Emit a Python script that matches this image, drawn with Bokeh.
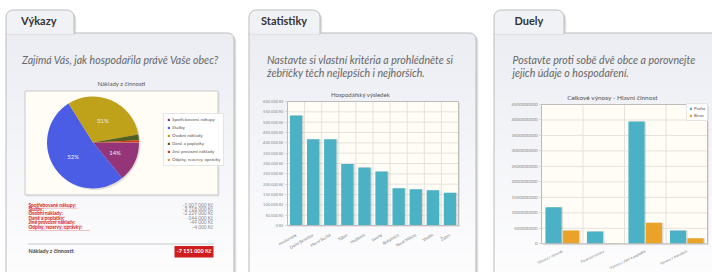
import math
import numpy as np
from bokeh.plotting import figure
from bokeh.models import (Range1d, LinearAxis, FixedTicker, Legend, LegendItem,
                          ColumnDataSource, NumeralTickFormatter)
from bokeh.embed import file_html
from bokeh.resources import INLINE
from bokeh.core.properties import value

# ---------------- data ----------------
tab_titles = ["Výkazy", "Statistiky", "Duely"]
intro_1 = ["Zajímá Vás, jak hospodařila právě Vaše obec?"]
intro_2 = ["Nastavte si vlastní kritéria a prohlédněte si", "žebříčky těch nejlepších i nejhorších."]
intro_3 = ["Postavte proti sobě dvě obce a porovnejte", "jejich údaje o hospodaření."]

pie_title = "Náklady z činnosti"
pie_labels = ["Spotřebované nákupy", "Služby", "Osobní náklady", "Daně a poplatky",
              "Jiné provozní náklady", "Odpisy, rezervy, oprávky"]
pie_values = [1007000, 3718000, 2229000, 144000, 49000, 4000]
pie_colors = ["#953579", "#4b5de4", "#bfa21a", "#4f601e", "#d8361f", "#e8a22c"]
total_label = "Náklady z činnosti:"

bar_title = "Hospodářský výsledek"
bar_towns = ["Hrušovany", "Dolní Benešov", "Horní Suchá", "Tábor", "Hodonín",
             "Louny", "Rokytnice", "Nové Město", "Vsetín", "Žatec"]
bar_values = [532000, 417000, 417000, 297000, 281000, 261000, 180000, 175000, 170000, 159000]
bar_ticks = [0, 50000, 100000, 150000, 200000, 250000, 300000, 350000, 400000, 450000,
             500000, 550000, 600000]

duel_title = "Celkové výnosy - Hlavní činnost"
duel_items = ["Výnosy z činnosti", "Finanční výnosy", "Výnosy z daní a poplatků", "Výnosy z transferů"]
duel_series = ["Praha", "Brno"]
duel_praha = [1.18e9, 0.40e9, 3.95e9, 0.43e9]
duel_brno = [0.43e9, 0.01e9, 0.68e9, 0.18e9]
duel_ticks = [0, 0.5e9, 1.0e9, 1.5e9, 2.0e9, 2.5e9, 3.0e9, 3.5e9, 4.0e9, 4.5e9]
duel_colors = ["#4bb2c5", "#eaa228"]

# ---------------- helpers ----------------
FONT_NAME = "Lato"
FONT = value(FONT_NAME)
X0, X1, YT, YB = 0, 712, 0, 272  # page pixels covered by the frame


def kc(v):
    return f"{int(v):,}".replace(",", " ") + " Kč"


def lin_range(p0, v0, p1, v1, s_start, s_end):
    k = (v1 - v0) / (p1 - p0)
    return Range1d(start=v0 + (s_start - p0) * k, end=v0 + (s_end - p0) * k)


def mix(c0, c1, t):
    return "#%02x%02x%02x" % tuple(int(round(a + (b - a) * t)) for a, b in zip(c0, c1))


p = figure(width=X1 - X0, height=YB - YT, x_range=Range1d(X0, X1), y_range=Range1d(YB, YT),
           x_axis_location=None, y_axis_location=None, toolbar_location=None,
           output_backend="svg", min_border=0, outline_line_color=None,
           background_fill_color="#ffffff", border_fill_color="#ffffff")
p.grid.visible = False

# ---------------- panels ----------------
panels = [(5.5, 233.5, 73.5), (248.5, 475.5, 319.5), (493.5, 740, 563.5)]
tab_text_x = [20.5, 260.5, 514.0]
intro_x = [21.5, 266.5, 512.0]
intros = [intro_1, intro_2, intro_3]
BODY_TOP, TAB_TOP, BOT = 32.5, 9.5, 300
top_c, bot_c = (235, 237, 243), (253, 253, 254)

for (l, r, tr), tx, ix, lines, title in zip(panels, tab_text_x, intro_x, intros, tab_titles):
    for off, a in ((2.5, 0.07), (1.5, 0.10)):
        p.quad(left=l + off, right=r + off, top=BODY_TOP + off, bottom=BOT,
               fill_color="black", fill_alpha=a, line_color=None, border_radius=6)
        p.quad(left=l + off, right=tr + off, top=TAB_TOP + off, bottom=BODY_TOP + 4,
               fill_color="black", fill_alpha=a, line_color=None, border_radius=7)
    p.quad(left=l, right=r, top=BODY_TOP, bottom=BOT, fill_color=mix(top_c, bot_c, 0),
           line_color=None, border_radius=(0, 6, 0, 0))
    ys = np.arange(BODY_TOP + 8, 272, 4.0)
    cols = [mix(top_c, bot_c, (y - BODY_TOP) / (272 - BODY_TOP)) for y in ys]
    p.quad(left=l + 0.5, right=r - 0.5, top=ys, bottom=ys + 4.3, fill_color=cols, line_color=None)
    p.quad(left=l, right=tr, top=TAB_TOP, bottom=BODY_TOP + 1, fill_color="#f1f2f6",
           line_color="#bdbdbd", border_radius=(7, 7, 0, 0))
    p.quad(left=l, right=r, top=BODY_TOP, bottom=BOT, fill_color=None,
           line_color="#bdbdbd", border_radius=(0, 6, 0, 0))
    p.quad(left=l + 0.6, right=tr - 0.6, top=BODY_TOP - 2, bottom=BODY_TOP + 1.5,
           fill_color="#eff0f4", line_color=None)
    p.text(x=[tx], y=[26.7], text=[title], text_font=FONT, text_font_style="bold",
           text_font_size="11px", text_color="#333333")
    p.text(x=[ix] * len(lines), y=[65.0 + 13.3 * i for i in range(len(lines))], text=lines,
           text_font=FONT, text_font_style="italic", text_font_size="10.6px", text_color="#666666")

# ---------------- pie chart (Výkazy) ----------------
PB = (24.5, 217.5, 90.5, 194.5)
p.quad(left=PB[0] + 1.5, right=PB[1] + 1.5, top=PB[2] + 1.5, bottom=PB[3] + 1.5,
       fill_color="black", fill_alpha=0.08, line_color=None)
p.quad(left=PB[0], right=PB[1], top=PB[2], bottom=PB[3], fill_color="#fffdf6", line_color="#c9c9c9")
p.text(x=[(PB[0] + PB[1]) / 2], y=[86.5], text=[pie_title], text_font=FONT, text_font_size="6px",
       text_align="center", text_color="#555555")

PCX, PCY, R = 92.5, 142.0, 46.0
p.extra_x_ranges["pie_x"] = lin_range(PCX, 0, PCX + 1, 1, X0, X1)
p.extra_y_ranges["pie_y"] = lin_range(PCY, 0, PCY - 1, 1, YB, YT)
vals = np.array(pie_values, dtype=float)
frac = vals / vals.sum()
cum_after = np.cumsum(frac)
cum_before = cum_after - frac
pie_src = ColumnDataSource(dict(start=-cum_after * 2 * math.pi, end=-cum_before * 2 * math.pi,
                                color=pie_colors, label=pie_labels))
p.circle(x=1.5, y=-1.5, radius=R, fill_color="black", fill_alpha=0.12, line_color=None,
         x_range_name="pie_x", y_range_name="pie_y")
wr = p.wedge(x=0, y=0, radius=R, start_angle="start", end_angle="end", direction="anticlock",
             fill_color="color", line_color=None, source=pie_src,
             x_range_name="pie_x", y_range_name="pie_y")
mid = -(cum_before + frac / 2) * 2 * math.pi
show = frac >= 0.05
p.text(x=(0.53 * R * np.cos(mid))[show], y=(0.53 * R * np.sin(mid))[show],
       text=[f"{round(f * 100)}%" for f in frac[show]], text_font=FONT, text_font_size="6px",
       text_align="center", text_baseline="middle", text_color="#eeeeee",
       x_range_name="pie_x", y_range_name="pie_y")
pie_legend = Legend(items=[LegendItem(label=lab, renderers=[wr], index=i) for i, lab in enumerate(pie_labels)],
                    location=(163 - X0, YB - 166), label_text_font=FONT_NAME, label_text_font_size="4.5px",
                    label_text_color="#555555", glyph_width=3, glyph_height=3, label_height=5,
                    label_width=10, label_standoff=2, spacing=3, padding=3, margin=0,
                    border_line_color="#cccccc", background_fill_color="#ffffff")
p.add_layout(pie_legend)

# table under the pie
row_y = [207.0 + 4.45 * i for i in range(len(pie_labels))]
tl = [lab + ":" for lab in pie_labels]
p.text(x=[28] * len(tl), y=row_y, text=tl, text_font=FONT, text_font_size="4.8px",
       text_font_style="bold", text_color="#d42020")
p.segment(x0=[28] * len(tl), x1=[28 + 2.45 * len(t) for t in tl], y0=[y + 0.7 for y in row_y],
          y1=[y + 0.7 for y in row_y], line_color="#e06060", line_width=0.4)
p.text(x=[212.5] * len(tl), y=row_y, text=[kc(-v) for v in pie_values], text_font=FONT,
       text_font_size="4.8px", text_align="right", text_color="#888888")
p.segment(x0=[27.5], x1=[213.5], y0=[243.5], y1=[243.5], line_color="#c8c8c8", line_width=1)
p.text(x=[28], y=[253.5], text=[total_label], text_font=FONT, text_font_size="5.5px",
       text_font_style="bold", text_color="#444444")
p.quad(left=174, right=213, top=245.5, bottom=257, fill_color="#cf1d1d", line_color=None)
p.text(x=[193.5], y=[253.4], text=[kc(-sum(pie_values))], text_font=FONT, text_font_size="5.5px",
       text_font_style="bold", text_align="center", text_color="#ffffff")

# ---------------- bar chart (Statistiky) ----------------
n2 = len(bar_values)
B2L, B2R, B2T, B2B = 287.0, 458.0, 101.0, 225.0
p.extra_x_ranges["b2x"] = lin_range(B2L, -0.5, B2R, n2 - 0.5, X0, X1)
p.extra_y_ranges["b2y"] = lin_range(B2B, 0, B2T, bar_ticks[-1], YB, YT)
p.text(x=[360], y=[97.0], text=[bar_title], text_font=FONT, text_font_size="6px",
       text_align="center", text_color="#555555")
p.quad(left=B2L + 1.5, right=B2R + 1.5, top=B2T + 1.5, bottom=B2B + 1.5, fill_color="black",
       fill_alpha=0.08, line_color=None)
p.quad(left=B2L, right=B2R, top=B2T, bottom=B2B, fill_color="#fffdf6", line_color=None)
kw2 = dict(x_range_name="b2x", y_range_name="b2y")
idx2 = np.arange(n2)
p.segment(x0=idx2[:-1] + 0.5, x1=idx2[:-1] + 0.5, y0=0, y1=bar_ticks[-1], line_color="#e4e2da",
          line_width=1, **kw2)
p.segment(x0=-0.5, x1=n2 - 0.5, y0=bar_ticks[1:-1], y1=bar_ticks[1:-1], line_color="#e4e2da",
          line_width=1, **kw2)
ux2 = n2 / (B2R - B2L)
p.vbar(x=idx2 + 1.5 * ux2, top=bar_values, bottom=0, width=0.72, fill_color="black",
       fill_alpha=0.12, line_color=None, **kw2)
p.vbar(x=idx2, top=bar_values, bottom=0, width=0.72, fill_color="#4bb2c5", line_color=None, **kw2)
p.quad(left=B2L, right=B2R, top=B2T, bottom=B2B, fill_color=None, line_color="#bbbbbb")
ay2 = LinearAxis(fixed_location=-0.5, ticker=FixedTicker(ticks=bar_ticks),
                 major_label_overrides={t: kc(t) for t in bar_ticks},
                 bounds=(0, bar_ticks[-1]), axis_line_color=None, major_tick_line_color="#cccccc",
                 major_tick_in=0, major_tick_out=2, minor_tick_line_color=None,
                 major_label_text_font=FONT_NAME, major_label_text_font_size="4px",
                 major_label_text_color="#888888", major_label_standoff=2, **kw2)
p.add_layout(ay2, "left")
ax2 = LinearAxis(fixed_location=0, ticker=FixedTicker(ticks=[int(i) for i in idx2]),
                 major_label_overrides={int(i): t for i, t in zip(idx2, bar_towns)},
                 bounds=(-0.5, n2 - 0.5), axis_line_color=None, major_tick_line_color=None,
                 minor_tick_line_color=None, major_label_orientation=math.pi / 6,
                 major_label_text_font=FONT_NAME, major_label_text_font_size="4.2px",
                 major_label_text_color="#777777", major_label_standoff=3, **kw2)
p.add_layout(ax2, "below")

# ---------------- grouped bars (Duely) ----------------
n3 = len(duel_items)
B3L, B3R, B3T, B3B = 541.0, 707.0, 104.0, 243.3
p.extra_x_ranges["b3x"] = lin_range(B3L, -0.5, B3R, n3 - 0.5, X0, X1)
p.extra_y_ranges["b3y"] = lin_range(B3B, 0, B3T, duel_ticks[-1], YB, YT)
kw3 = dict(x_range_name="b3x", y_range_name="b3y")
p.text(x=[612], y=[100.0], text=[duel_title], text_font=FONT, text_font_size="6.5px",
       text_align="center", text_color="#555555")
p.quad(left=B3L + 1.5, right=B3R + 1.5, top=B3T + 1.5, bottom=B3B + 1.5, fill_color="black",
       fill_alpha=0.08, line_color=None)
p.quad(left=B3L, right=B3R, top=B3T, bottom=B3B, fill_color="#fffdf6", line_color=None)
idx3 = np.arange(n3)
p.segment(x0=idx3[:-1] + 0.5, x1=idx3[:-1] + 0.5, y0=0, y1=duel_ticks[-1], line_color="#e4e2da",
          line_width=1, **kw3)
p.segment(x0=-0.5, x1=n3 - 0.5, y0=duel_ticks[1:-1], y1=duel_ticks[1:-1], line_color="#e4e2da",
          line_width=1, **kw3)
ux3 = n3 / (B3R - B3L)
renderers = []
for off, vals3, col in ((-0.21, duel_praha, duel_colors[0]), (0.21, duel_brno, duel_colors[1])):
    p.vbar(x=idx3 + off + 1.5 * ux3, top=vals3, bottom=0, width=0.39, fill_color="black",
           fill_alpha=0.12, line_color=None, **kw3)
    renderers.append(p.vbar(x=idx3 + off, top=vals3, bottom=0, width=0.39, fill_color=col,
                            line_color=None, **kw3))
p.quad(left=B3L, right=B3R, top=B3T, bottom=B3B, fill_color=None, line_color="#bbbbbb")
ay3 = LinearAxis(fixed_location=-0.5, ticker=FixedTicker(ticks=duel_ticks),
                 formatter=NumeralTickFormatter(format="0"),
                 bounds=(0, duel_ticks[-1]), axis_line_color=None, major_tick_line_color="#cccccc",
                 major_tick_in=0, major_tick_out=2, minor_tick_line_color=None,
                 major_label_text_font=FONT_NAME, major_label_text_font_size="4.5px",
                 major_label_text_color="#888888", major_label_standoff=2, **kw3)
p.add_layout(ay3, "left")
ax3 = LinearAxis(fixed_location=0, ticker=FixedTicker(ticks=[int(i) for i in idx3]),
                 major_label_overrides={int(i): t for i, t in zip(idx3, duel_items)},
                 bounds=(-0.5, n3 - 0.5), axis_line_color=None, major_tick_line_color=None,
                 minor_tick_line_color=None, major_label_orientation=math.pi / 7,
                 major_label_text_font=FONT_NAME, major_label_text_font_size="3.6px",
                 major_label_text_color="#777777", major_label_standoff=1, **kw3)
p.add_layout(ax3, "below")
duel_legend = Legend(items=[LegendItem(label=s, renderers=[r]) for s, r in zip(duel_series, renderers)],
                     location=(686 - X0, YB - 121), label_text_font=FONT_NAME, label_text_font_size="4.5px",
                     label_text_color="#555555", glyph_width=3, glyph_height=3, label_height=5,
                     label_width=10, label_standoff=2, spacing=2, padding=2, margin=0,
                     border_line_color="#cccccc", background_fill_color="#ffffff")
p.add_layout(duel_legend)

open("out.html", "w").write(file_html(p, INLINE))
